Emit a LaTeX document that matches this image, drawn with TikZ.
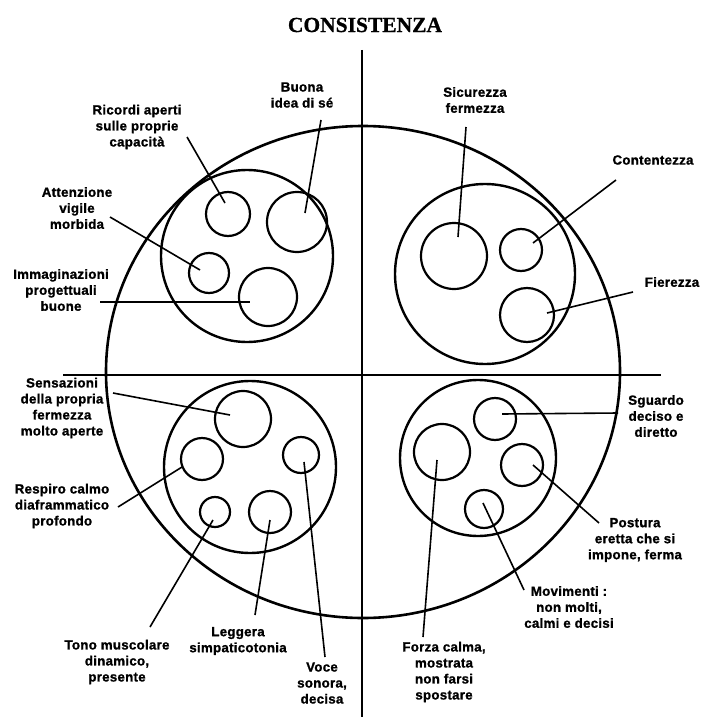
\documentclass[tikz,border=0pt]{standalone}
\usepackage{fontspec}
\setmainfont{Liberation Sans}
\newfontfamily\labfont[FakeBold=1.2,LetterSpace=2]{Liberation Sans Bold}
\newfontfamily\titlefont[FakeBold=0.8]{Liberation Serif Bold}
\begin{document}
\begin{tikzpicture}[x=1pt,y=-1pt,
  lab/.style={font=\labfont\fontsize{13.3}{16}\selectfont, align=center, inner sep=0pt},
  sc/.style={circle, draw, line width=2.2pt, inner sep=0pt},
  grp/.style={circle, draw, line width=2.4pt, inner sep=0pt},
  con/.style={line width=1.6pt},
  axis/.style={line width=1.7pt}]
\useasboundingbox (0,0) rectangle (702,717);

% title
\node[font=\titlefont\fontsize{21.5}{24}\selectfont, inner sep=0pt] (title) at (365,25) {CONSISTENZA};

% axes
\coordinate (vtop) at (362,50);
\coordinate (vbot) at (362,717);
\coordinate (hl) at (63,375);
\coordinate (hr) at (661,375);
\draw[axis] (vtop) -- (vbot);
\draw[axis] (hl) -- (hr);

% outer ellipse
\draw[line width=2.6pt] (363,372) ellipse [x radius=257pt, y radius=246pt];

% group circles
\node[grp, minimum size=172pt] (gTL) at (247,256) {};
\node[grp, minimum size=180pt] (gTR) at (485,274) {};
\node[grp, minimum size=172pt] (gBL) at (250,467) {};
\node[grp, minimum size=156pt] (gBR) at (478,458) {};

% small circles
\node[sc, minimum size=44pt] (ric) at (228,214) {};
\node[sc, minimum size=60pt] (buo) at (297,222) {};
\node[sc, minimum size=40pt] (att) at (209,273) {};
\node[sc, minimum size=58pt] (imm) at (268,297) {};

\node[sc, minimum size=66pt] (sic) at (454,256) {};
\node[sc, minimum size=42pt] (con) at (521,250) {};
\node[sc, minimum size=54pt] (fie) at (527,315) {};

\node[sc, minimum size=56pt] (sen) at (243,419) {};
\node[sc, minimum size=42pt] (res) at (202,459) {};
\node[sc, minimum size=36pt] (voc) at (301,455) {};
\node[sc, minimum size=30pt] (ton) at (215,512) {};
\node[sc, minimum size=42pt] (leg) at (270,512) {};

\node[sc, minimum size=42pt] (sgu) at (495,419) {};
\node[sc, minimum size=56pt] (for) at (442,452) {};
\node[sc, minimum size=42pt] (pos) at (522,465) {};
\node[sc, minimum size=38pt] (mov) at (484,509) {};

% labels
\node[lab] (tBuo) at (302,95) {Buona\\idea di sé};
\node[lab] (tRic) at (137,127) {Ricordi aperti\\sulle proprie\\capacità};
\node[lab] (tAtt) at (77,208) {Attenzione\\vigile\\morbida};
\node[lab] (tImm) at (61,290) {Immaginazioni\\progettuali\\buone};
\node[lab] (tSic) at (475,100) {Sicurezza\\fermezza};
\node[lab] (tCon) at (653,160) {Contentezza};
\node[lab] (tFie) at (672,282) {Fierezza};
\node[lab] (tSen) at (62,408) {Sensazioni\\della propria\\fermezza\\molto aperte};
\node[lab] (tRes) at (62,506) {Respiro calmo\\diaframmatico\\profondo};
\node[lab] (tTon) at (117,662) {Tono muscolare\\dinamico,\\presente};
\node[lab] (tLeg) at (238,641) {Leggera\\simpaticotonia};
\node[lab] (tVoc) at (322,683) {Voce\\sonora,\\decisa};
\node[lab] (tSgu) at (656,416) {Sguardo\\deciso e\\diretto};
\node[lab] (tPos) at (635,540) {Postura\\eretta che si\\impone, ferma};
\node[lab] (tMov) at (569,607) {Movimenti :\\non molti,\\calmi e decisi};
\node[lab] (tFor) at (444,672) {Forza calma,\\mostrata\\non farsi\\spostare};

% connector free ends (label side)
\coordinate (eRic) at (187,137);
\coordinate (eBuo) at (321,120);
\coordinate (eAtt) at (110,217);
\coordinate (eImm) at (100,302);
\coordinate (eSic) at (466,127);
\coordinate (eCon) at (616,180);
\coordinate (eFie) at (633,292);
\coordinate (eSen) at (113,393);
\coordinate (eRes) at (118,507);
\coordinate (eVoc) at (325,657);
\coordinate (eTon) at (150,627);
\coordinate (eLeg) at (255,615);
\coordinate (eSgu) at (618,413);
\coordinate (eFor) at (423,637);
\coordinate (ePos) at (599,523);
\coordinate (eMov) at (524,590);

% connectors
\draw[con] (eRic) -- ([shift={(-3,-11)}]ric.center);
\draw[con] (eBuo) -- ([shift={(8,-9)}]buo.center);
\draw[con] (eAtt) -- ([shift={(-9,-3)}]att.center);
\draw[con] (eImm) -- ([shift={(-18,5)}]imm.center);
\draw[con] (eSic) -- ([shift={(4,-19)}]sic.center);
\draw[con] (eCon) -- ([shift={(12,-7)}]con.center);
\draw[con] (eFie) -- ([shift={(20,-2)}]fie.center);
\draw[con] (eSen) -- ([shift={(-13,-4)}]sen.center);
\draw[con] (eRes) -- ([shift={(-20,8)}]res.center);
\draw[con] (eVoc) -- ([shift={(3,7)}]voc.center);
\draw[con] (eTon) -- ([shift={(-2,8)}]ton.center);
\draw[con] (eLeg) -- ([shift={(0,8)}]leg.center);
\draw[con] (eSgu) -- ([shift={(7,-5)}]sgu.center);
\draw[con] (eFor) -- ([shift={(-5,8)}]for.center);
\draw[con] (ePos) -- ([shift={(11,0)}]pos.center);
\draw[con] (eMov) -- ([shift={(-1,-6)}]mov.center);
\end{tikzpicture}
\end{document}
